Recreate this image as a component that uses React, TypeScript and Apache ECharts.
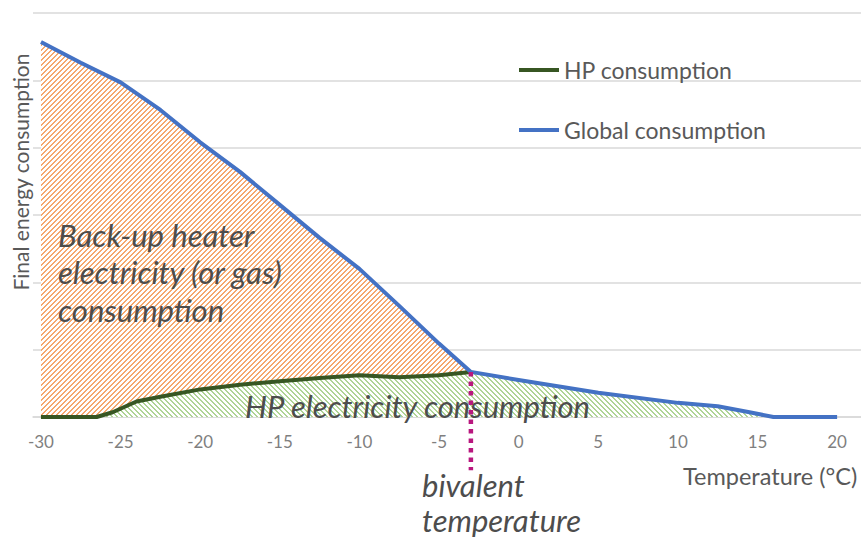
import React, { useEffect, useRef } from "react";
import * as echarts from "echarts";

const globalX = [-30, -27.5, -25, -22.5, -20, -17.5, -15, -12.5, -10, -7.5, -5, -3, 0, 5, 10, 12.5, 14.5, 16, 20];
const globalY = [5.57, 5.26, 4.97, 4.56, 4.08, 3.64, 3.15, 2.66, 2.2, 1.65, 1.09, 0.67, 0.55, 0.36, 0.21, 0.16, 0.07, 0, 0];

const hpX = [-30, -26.5, -25.5, -24, -22.5, -20, -17.5, -15, -12.5, -10, -7.5, -5, -3];
const hpY = [0, 0, 0.07, 0.23, 0.3, 0.41, 0.48, 0.53, 0.58, 0.62, 0.59, 0.62, 0.67];

const bivalentX = -3;
const bivalentY = [0.67, -0.79];

const xTicks = [-30, -25, -20, -15, -10, -5, 0, 5, 10, 15, 20];

const FONT = "Lato, 'Open Sans', sans-serif";

function makePattern(color: string, forward: boolean) {
  const n = 5;
  const c = document.createElement("canvas");
  c.width = n * 4;
  c.height = n * 4;
  const ctx = c.getContext("2d")!;
  ctx.fillStyle = "#ffffff";
  ctx.fillRect(0, 0, c.width, c.height);
  ctx.fillStyle = color;
  for (let x = 0; x < c.width; x++) {
    for (let y = 0; y < c.height; y++) {
      const v = forward ? (x + y) % n : ((x - y) % n + n) % n;
      if (v < 2) ctx.fillRect(x, y, 1, 1);
    }
  }
  return c;
}

export default function App() {
  const ref = useRef<HTMLDivElement>(null);
  useEffect(() => {
    if (!ref.current) return;
    const chart = echarts.init(ref.current, null, { renderer: "svg" });
    const globalData = globalX.map((x, i) => [x, globalY[i]]);
    const hpData = hpX.map((x, i) => [x, hpY[i]]);
    const greenData = [
      ...hpData,
      ...globalX.map((x, i) => [x, globalY[i]]).filter((p) => p[0] > bivalentX),
    ];
    const orangePat = makePattern("#f5a86e", true);
    const greenPat = makePattern("#afd495", false);
    const legendText = { fontSize: 23, color: "#595959", fontFamily: FONT, lineHeight: 24 };
    const annot = (text: string, x: number, y: number, lh = 31) => ({
      type: "text",
      x,
      y,
      style: {
        text,
        fontSize: 31,
        lineHeight: lh,
        fontStyle: "italic",
        fontFamily: FONT,
        fill: "#4d4d4d",
        textAlign: "left",
        textVerticalAlign: "middle",
      },
      z: 10,
    });
    chart.setOption({
      animation: false,
      backgroundColor: "#ffffff",
      grid: { left: 33, right: 0, top: 13, bottom: 121 },
      xAxis: {
        type: "value",
        min: -30.5,
        max: 21.5,
        splitLine: { show: false },
        axisLine: { show: true, lineStyle: { color: "#d9d9d9", width: 1.5 } },
        axisTick: { show: false },
        axisLabel: {
          customValues: xTicks,
          color: "#7f7f7f",
          fontSize: 17,
          fontFamily: FONT,
          margin: 16,
        },
      },
      yAxis: {
        type: "value",
        min: 0,
        max: 6,
        interval: 1,
        axisLabel: { show: false },
        axisLine: { show: false },
        axisTick: { show: false },
        splitLine: { show: true, lineStyle: { color: "#d9d9d9", width: 1.5 } },
      },
      legend: [
        {
          data: ["HP consumption"],
          left: 519,
          top: 58,
          padding: 0,
          icon: "rect",
          itemWidth: 40,
          itemHeight: 4,
          textStyle: legendText,
        },
        {
          data: ["Global consumption"],
          left: 519,
          top: 118,
          padding: 0,
          icon: "rect",
          itemWidth: 40,
          itemHeight: 4,
          textStyle: legendText,
        },
      ],
      series: [
        {
          name: "backup",
          type: "line",
          data: globalData,
          symbol: "none",
          lineStyle: { width: 0 },
          areaStyle: { color: { image: orangePat, repeat: "repeat" }, opacity: 1 },
          z: 1,
        },
        {
          name: "hpArea",
          type: "line",
          data: greenData,
          symbol: "none",
          lineStyle: { width: 0 },
          areaStyle: { color: { image: greenPat, repeat: "repeat" }, opacity: 1 },
          z: 2,
        },
        {
          name: "HP consumption",
          type: "line",
          data: hpData,
          symbol: "none",
          color: "#375623",
          lineStyle: { width: 4, color: "#375623", join: "round" },
          z: 3,
        },
        {
          name: "Global consumption",
          type: "line",
          data: globalData,
          symbol: "none",
          color: "#4472c4",
          lineStyle: { width: 4, color: "#4472c4", join: "round" },
          z: 4,
        },
        {
          name: "bivalent",
          type: "line",
          data: bivalentY.map((y) => [bivalentX, y]),
          symbol: "none",
          clip: false,
          lineStyle: { width: 4.5, color: "#b8177e", type: [4.5, 5], cap: "butt" },
          z: 5,
        },
      ],
      graphic: [
        {
          type: "text",
          x: 20,
          y: 172,
          rotation: Math.PI / 2,
          style: {
            text: "Final energy consumption",
            fontSize: 21,
            fontFamily: FONT,
            fill: "#595959",
            textAlign: "center",
            textVerticalAlign: "middle",
          },
          z: 10,
        },
        annot("Back-up heater", 58, 235),
        annot("electricity (or gas)", 58, 272),
        annot("consumption", 58, 310),
        annot("HP electricity consumption", 245, 406),
        annot("bivalent\ntemperature", 422, 502, 35),
        {
          type: "text",
          x: 683,
          y: 476,
          style: {
            text: "Temperature (°C)",
            fontSize: 23.5,
            fontFamily: FONT,
            fill: "#595959",
            textAlign: "left",
            textVerticalAlign: "middle",
          },
          z: 10,
        },
      ],
    });
    return () => chart.dispose();
  }, []);
  return <div ref={ref} style={{ width: 861, height: 538, position: "absolute", left: 0, top: 0 }} />;
}
